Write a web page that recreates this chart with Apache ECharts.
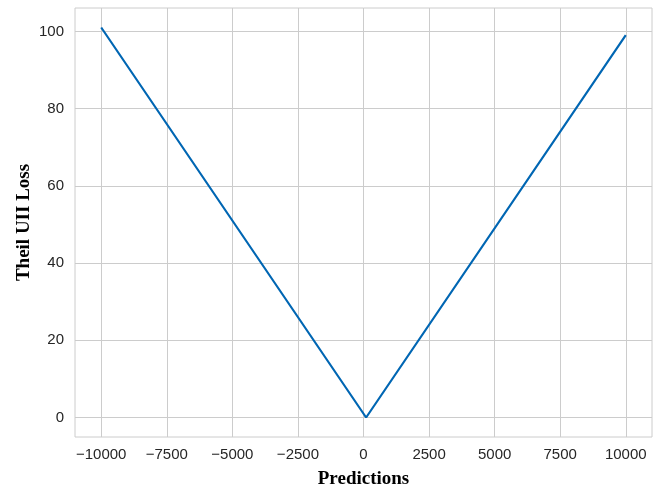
<!doctype html>
<html lang="en">
<head>
    <meta charset="UTF-8">
    <script src="https://cdn.jsdelivr.net/npm/echarts@6/dist/echarts.min.js"></script>
    <title>Theil UII Loss</title>
</head>
<body style="margin:0">
<div id="main" style="width: 660px;height:487px;"></div>
<script>
    // 数据
    var predictions = [-10000, 100, 10000];
    var loss = [101, 0, 99];
    var xTicks = [-10000, -7500, -5000, -2500, 0, 2500, 5000, 7500, 10000];
    var yTicks = [0, 20, 40, 60, 80, 100];

    var points = [];
    for (var i = 0; i < predictions.length; i++) {
        points.push([predictions[i], loss[i]]);
    }

    var myChart = echarts.init(document.getElementById('main'));
    var labelStyle = {
        fontFamily: 'Liberation Sans',
        fontSize: 15,
        color: '#262626'
    };
    var nameStyle = {
        fontFamily: 'Liberation Serif',
        fontWeight: 'bold',
        fontSize: 19,
        color: '#000'
    };
    var option = {
        animation: false,
        grid: {
            left: 75,
            right: 8,
            top: 8,
            bottom: 50,
            outerBoundsMode: 'none',
            show: true,
            borderColor: '#cccccc',
            borderWidth: 1
        },
        xAxis: {
            type: 'value',
            min: -11000,
            max: 11000,
            name: 'Predictions',
            nameLocation: 'middle',
            nameGap: 33,
            nameTextStyle: nameStyle,
            axisLine: {show: false},
            axisTick: {show: false, customValues: xTicks},
            axisLabel: Object.assign({
                customValues: xTicks,
                margin: 10,
                formatter: function (v) { return String(v).replace('-', '\u2212'); }
            }, labelStyle),
            splitLine: {show: true, lineStyle: {color: '#cccccc', width: 1}}
        },
        yAxis: {
            type: 'value',
            min: -5.05,
            max: 106.05,
            name: 'Theil UII Loss',
            nameLocation: 'middle',
            nameGap: 41,
            nameMoveOverlap: false,
            nameTextStyle: nameStyle,
            axisLine: {show: false},
            axisTick: {show: false, customValues: yTicks},
            axisLabel: Object.assign({customValues: yTicks, margin: 11}, labelStyle),
            splitLine: {show: true, lineStyle: {color: '#cccccc', width: 1}}
        },
        series: [{
            type: 'line',
            data: points,
            symbol: 'none',
            lineStyle: {color: '#0066b3', width: 2.2}
        }]
    };
    myChart.setOption(option);
</script>
</body>
</html>
